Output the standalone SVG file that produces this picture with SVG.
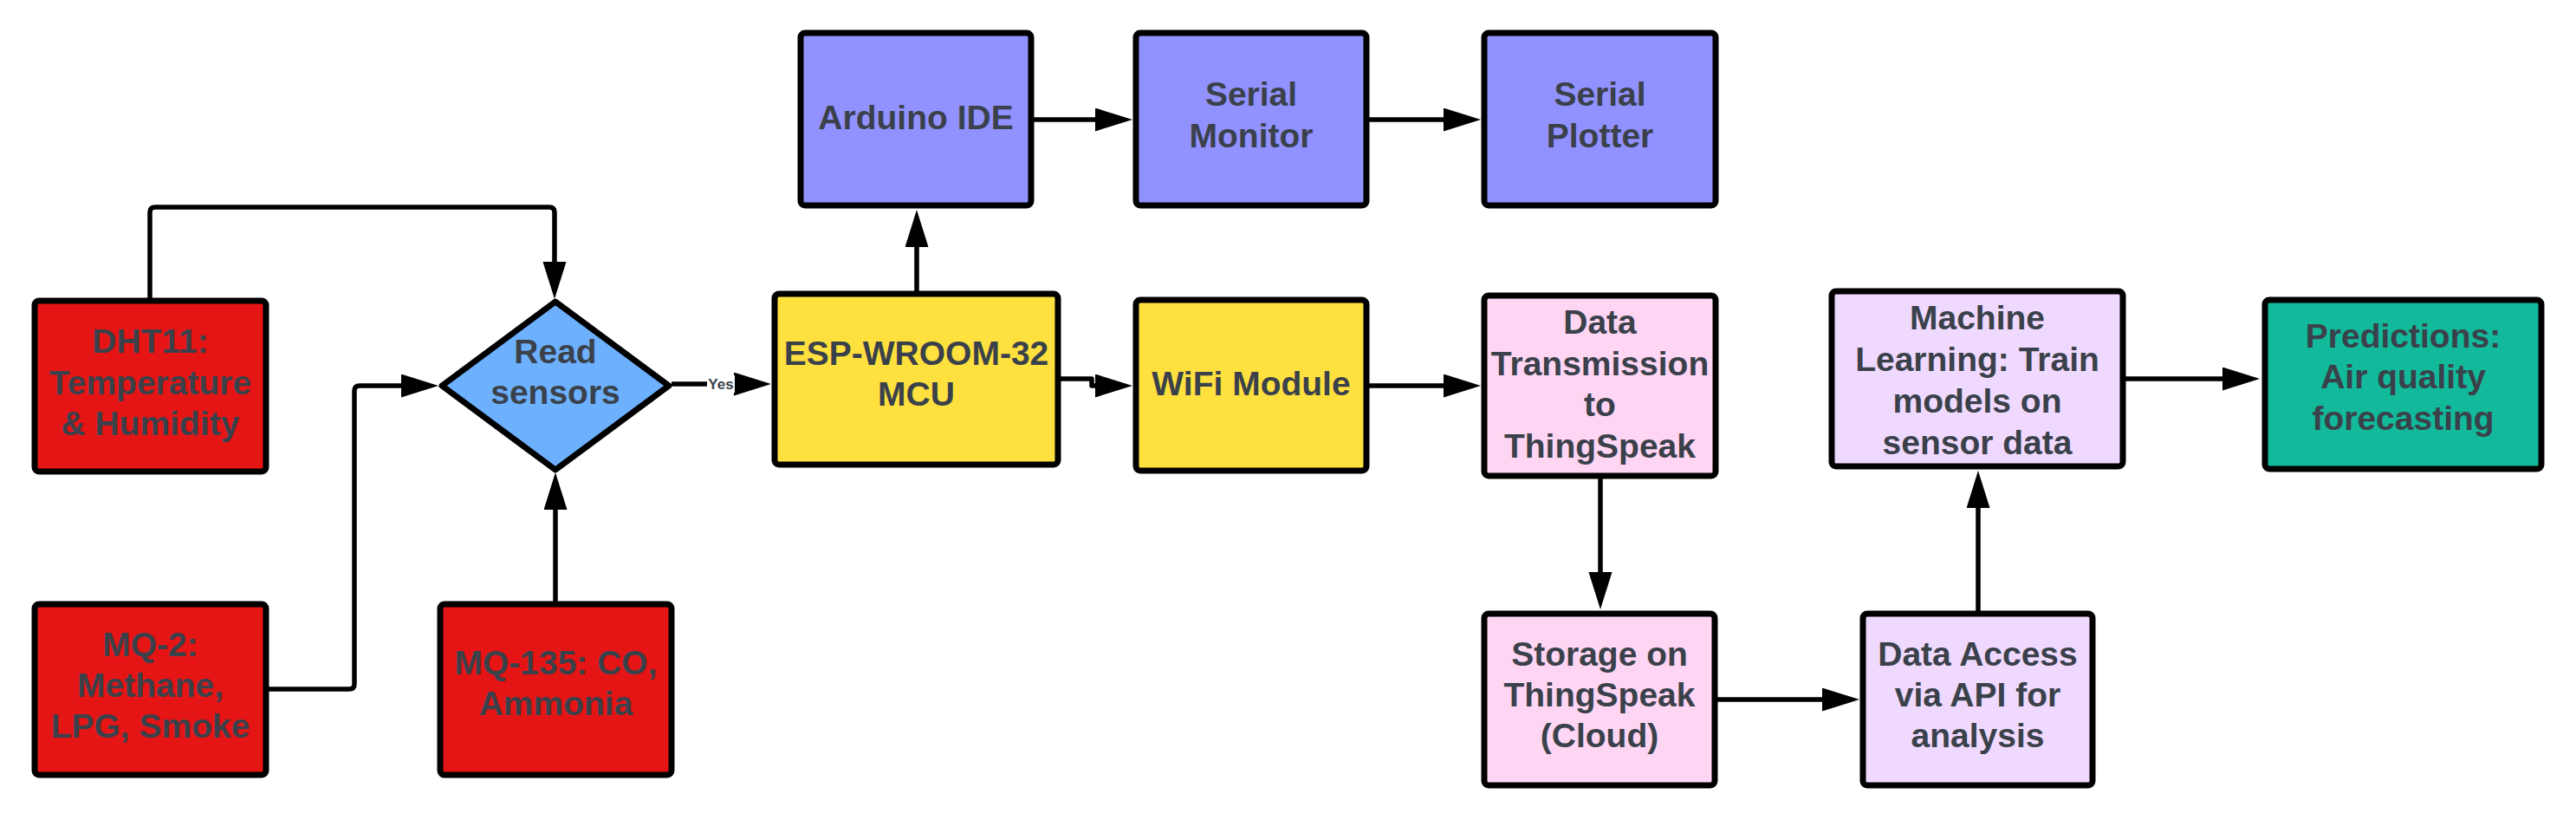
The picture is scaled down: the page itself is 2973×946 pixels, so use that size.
<svg xmlns="http://www.w3.org/2000/svg" width="2973" height="946" viewBox="0 0 2973 946">
<style>
.box{stroke:#000;stroke-width:7;stroke-linejoin:round}
.red{fill:#E61515}
.blue{fill:#6CB0FE}
.purple{fill:#9191FF}
.yellow{fill:#FEE03E}
.pink{fill:#FFD5F4}
.lav{fill:#F0D9FE}
.green{fill:#12B99A}
.t{font-family:"Liberation Sans",Arial,sans-serif;font-weight:bold;font-size:39px;fill:#3A414A;text-anchor:middle}
.yes{font-family:"Liberation Sans",Arial,sans-serif;font-weight:bold;font-size:17px;fill:#3A414A;text-anchor:middle}
.c{fill:none;stroke:#000;stroke-width:5.5;stroke-linejoin:round;marker-end:url(#arr)}
</style>
<defs>
<marker id="arr" markerUnits="userSpaceOnUse" markerWidth="44" markerHeight="28" refX="2" refY="13.5" orient="auto">
<path d="M0,0 L43,13.5 L0,27 z" fill="#000"/>
</marker>
</defs>
<rect width="2973" height="946" fill="#fff"/>
<g id="connectors">
<path class="c" d="M173,347 V245 Q173,239 179,239 H634 Q640,239 640,245 V304"/>
<path class="c" d="M307,795 H403 Q409,795 409,789 V451 Q409,445 415,445 H465"/>
<path class="c" d="M641,697 V586"/>
<path class="c" d="M775,443 H849"/>
<path class="c" d="M1058,339 V283"/>
<path class="c" d="M1190,138 H1266"/>
<path class="c" d="M1577,138 H1668"/>
<path class="c" d="M1221,437 H1260 V445 H1266"/>
<path class="c" d="M1577,445 H1668"/>
<path class="c" d="M1847,549 V662"/>
<path class="c" d="M1979,807 H2105"/>
<path class="c" d="M2283,708 V584"/>
<path class="c" d="M2450,437 H2567"/>
<rect x="816" y="433" width="32" height="20" fill="#fff"/>
<text class="yes" x="832" y="449">Yes</text>
</g>
<g id="dht11">
<rect class="box red" x="40" y="347" width="267" height="197" rx="5"/>
<text class="t" x="173.5" y="407">DHT11:</text>
<text class="t" x="173.5" y="455">Temperature</text>
<text class="t" x="173.5" y="502">&amp; Humidity</text>
</g>
<g id="mq2">
<rect class="box red" x="40" y="697" width="267" height="197" rx="5"/>
<text class="t" x="173.5" y="757">MQ-2:</text>
<text class="t" x="173.5" y="804">Methane,</text>
<text class="t" x="173.5" y="851">LPG, Smoke</text>
</g>
<g id="mq135">
<rect class="box red" x="508" y="697" width="267" height="197" rx="5"/>
<text class="t" x="641.5" y="778">MQ-135: CO,</text>
<text class="t" x="641.5" y="825">Ammonia</text>
</g>
<g id="read">
<path class="box blue" d="M641,348 L772,445 L641,542 L510,445 Z"/>
<text class="t" x="641" y="419">Read</text>
<text class="t" x="641" y="466">sensors</text>
</g>
<g id="esp">
<rect class="box yellow" x="894" y="339" width="327" height="197" rx="5"/>
<text class="t" x="1057.5" y="421">ESP-WROOM-32</text>
<text class="t" x="1057.5" y="468">MCU</text>
</g>
<g id="arduino">
<rect class="box purple" x="924" y="38" width="266" height="199" rx="5"/>
<text class="t" x="1057" y="149">Arduino IDE</text>
</g>
<g id="serialmonitor">
<rect class="box purple" x="1311" y="38" width="266" height="199" rx="5"/>
<text class="t" x="1444" y="122">Serial</text>
<text class="t" x="1444" y="170">Monitor</text>
</g>
<g id="serialplotter">
<rect class="box purple" x="1713" y="38" width="267" height="199" rx="5"/>
<text class="t" x="1846.5" y="122">Serial</text>
<text class="t" x="1846.5" y="170">Plotter</text>
</g>
<g id="wifi">
<rect class="box yellow" x="1311" y="346" width="266" height="197" rx="5"/>
<text class="t" x="1444" y="456">WiFi Module</text>
</g>
<g id="datatrans">
<rect class="box pink" x="1713" y="341" width="267" height="208" rx="5"/>
<text class="t" x="1846.5" y="385">Data</text>
<text class="t" x="1846.5" y="433">Transmission</text>
<text class="t" x="1846.5" y="480">to</text>
<text class="t" x="1846.5" y="528">ThingSpeak</text>
</g>
<g id="storage">
<rect class="box pink" x="1713" y="708" width="266" height="198" rx="5"/>
<text class="t" x="1846" y="768">Storage on</text>
<text class="t" x="1846" y="815">ThingSpeak</text>
<text class="t" x="1846" y="862">(Cloud)</text>
</g>
<g id="dataaccess">
<rect class="box lav" x="2150" y="708" width="265" height="198" rx="5"/>
<text class="t" x="2282.5" y="768">Data Access</text>
<text class="t" x="2282.5" y="815">via API for</text>
<text class="t" x="2282.5" y="862">analysis</text>
</g>
<g id="ml">
<rect class="box lav" x="2114" y="336" width="336" height="202" rx="5"/>
<text class="t" x="2282" y="380">Machine</text>
<text class="t" x="2282" y="428">Learning: Train</text>
<text class="t" x="2282" y="476">models on</text>
<text class="t" x="2282" y="524">sensor data</text>
</g>
<g id="predictions">
<rect class="box green" x="2614" y="346" width="319" height="195" rx="5"/>
<text class="t" x="2773.5" y="401">Predictions:</text>
<text class="t" x="2773.5" y="448">Air quality</text>
<text class="t" x="2773.5" y="496">forecasting</text>
</g>
</svg>
